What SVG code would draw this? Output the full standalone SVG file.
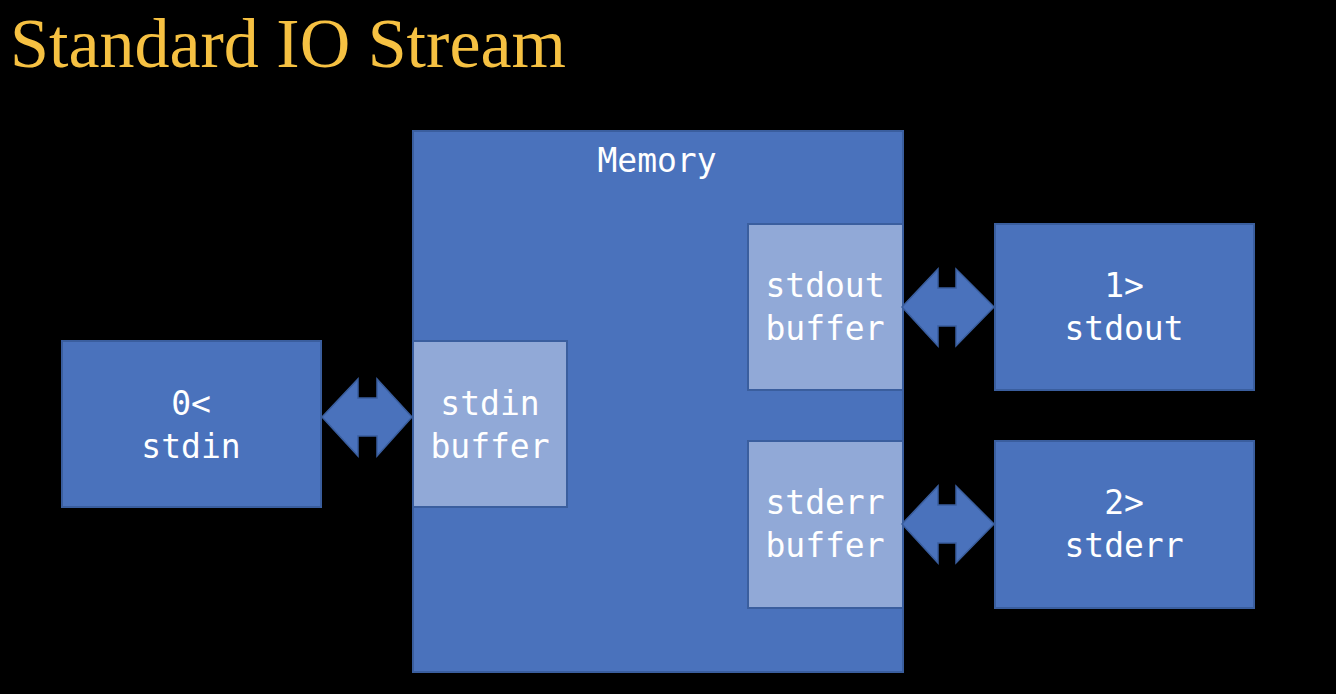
<svg xmlns="http://www.w3.org/2000/svg" width="1336" height="694" viewBox="0 0 1336 694">
<style>
.box{fill:#4A72BC;stroke:#3A5E9E;stroke-width:2}
.buf{fill:#91A9D7;stroke:#3A5E9E;stroke-width:2}
.arr{fill:#4A72BC;stroke:#3A5E9E;stroke-width:1.5}
.t{font-family:"DejaVu Sans Mono","Liberation Mono",monospace;font-size:33px;fill:#FFFFFF;text-anchor:middle}
.title{font-family:"Liberation Serif","DejaVu Serif",serif;font-size:70px;fill:#F6C142}
</style>
<rect width="1336" height="694" fill="#000000"/>
<text class="title" x="10" y="67">Standard IO Stream</text>
<g id="memory">
<rect class="box" x="413" y="131" width="490" height="541"/>
<text class="t" x="657" y="172">Memory</text>
</g>
<g id="stdin-buffer">
<rect class="buf" x="413" y="341" width="154" height="166"/>
<text class="t" x="490" y="415">stdin</text>
<text class="t" x="490" y="458">buffer</text>
</g>
<g id="stdout-buffer">
<rect class="buf" x="748" y="224" width="155" height="166"/>
<text class="t" x="825" y="297">stdout</text>
<text class="t" x="825" y="340">buffer</text>
</g>
<g id="stderr-buffer">
<rect class="buf" x="748" y="441" width="155" height="167"/>
<text class="t" x="825" y="514">stderr</text>
<text class="t" x="825" y="557">buffer</text>
</g>
<g id="stdin">
<rect class="box" x="62" y="341" width="259" height="166"/>
<text class="t" x="191" y="415">0&lt;</text>
<text class="t" x="191" y="458">stdin</text>
</g>
<g id="stdout">
<rect class="box" x="995" y="224" width="259" height="166"/>
<text class="t" x="1124" y="297">1&gt;</text>
<text class="t" x="1124" y="340">stdout</text>
</g>
<g id="stderr">
<rect class="box" x="995" y="441" width="259" height="167"/>
<text class="t" x="1124" y="514">2&gt;</text>
<text class="t" x="1124" y="557">stderr</text>
</g>
<g id="connectors">
<path class="arr" d="M322,417 L358,379 L358,398 L377,398 L377,379 L412,417 L377,456 L377,436 L358,436 L358,456 Z"/>
<path class="arr" d="M902,307 L938,269 L938,288 L956,288 L956,269 L994,307 L956,346 L956,326 L938,326 L938,346 Z"/>
<path class="arr" d="M902,524 L938,486 L938,505 L956,505 L956,486 L994,524 L956,563 L956,543 L938,543 L938,563 Z"/>
</g>
</svg>
